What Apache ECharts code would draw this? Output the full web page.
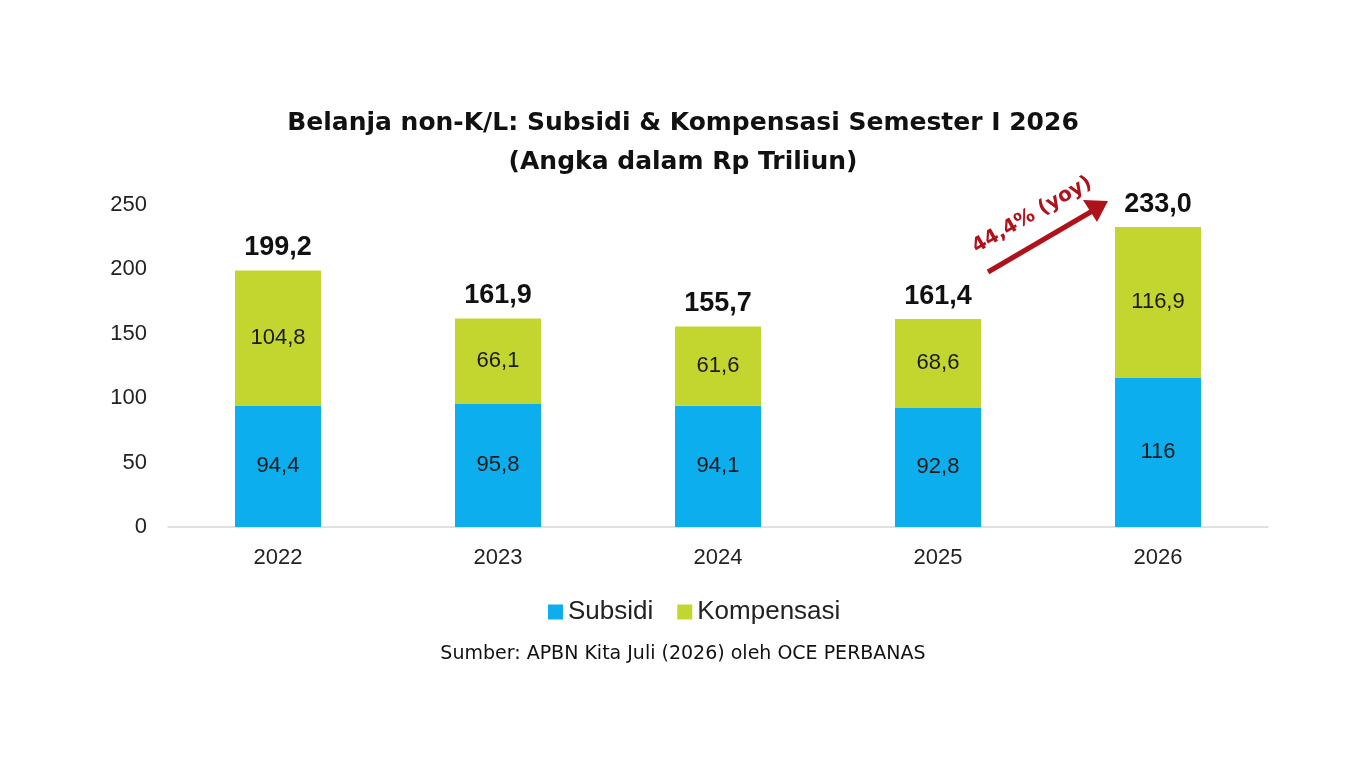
<!DOCTYPE html>
<html>
<head>
<meta charset="utf-8">
<title>Belanja non-K/L: Subsidi & Kompensasi</title>
<script src="https://cdn.jsdelivr.net/npm/echarts@6/dist/echarts.min.js"></script>
<style>
    html, body { margin: 0; padding: 0; background: #fff; }
    #chart { width: 1366px; height: 768px; }
</style>
</head>
<body>
<div id="chart"></div>
<script>
// data
const years = ['2022', '2023', '2024', '2025', '2026'];
const subsidi = [94.4, 95.8, 94.1, 92.8, 116];
const kompensasi = [104.8, 66.1, 61.6, 68.6, 116.9];
const totals = [199.2, 161.9, 155.7, 161.4, 233.0];
const yTicks = [0, 50, 100, 150, 200, 250];

const comma = v => String(v).replace('.', ',');
const baseFont = '"Liberation Sans", Arial, sans-serif';
const headFont = '"DejaVu Sans", sans-serif';

const chart = echarts.init(document.getElementById('chart'));

const option = {
    backgroundColor: '#ffffff',
    title: [
        {
            text: 'Belanja non-K/L: Subsidi & Kompensasi Semester I 2026\n(Angka dalam Rp Triliun)',
            left: 'center',
            top: 99,
            textStyle: {
                fontFamily: headFont,
                fontSize: 25,
                fontWeight: 'bold',
                color: '#111',
                lineHeight: 39
            }
        },
        {
            text: 'Sumber: APBN Kita Juli (2026) oleh OCE PERBANAS',
            left: 'center',
            top: 640,
            textStyle: {
                fontFamily: headFont,
                fontSize: 19,
                fontWeight: 'normal',
                color: '#111'
            }
        }
    ],
    legend: {
        data: ['Subsidi', 'Kompensasi'],
        left: 543,
        top: 594,
        itemWidth: 15,
        itemHeight: 15,
        itemGap: 24,
        icon: 'rect',
        textStyle: { fontFamily: baseFont, fontSize: 26, color: '#222' }
    },
    grid: { left: 168, right: 98, top: 205, bottom: 241, containLabel: false },
    xAxis: {
        type: 'category',
        data: years,
        axisLine: { lineStyle: { color: '#d6d6d6', width: 1.5 } },
        axisTick: { show: false },
        axisLabel: { fontFamily: baseFont, fontSize: 22, color: '#222', margin: 20 }
    },
    yAxis: {
        type: 'value',
        min: yTicks[0],
        max: yTicks[yTicks.length - 1],
        interval: 50,
        axisLine: { show: false },
        axisTick: { show: false },
        splitLine: { show: false },
        axisLabel: { fontFamily: baseFont, fontSize: 22, color: '#222', margin: 21 }
    },
    series: [
        {
            name: 'Subsidi',
            type: 'bar',
            stack: 'total',
            data: subsidi,
            barWidth: 86,
            itemStyle: { color: '#0DAEEE' },
            label: {
                show: true,
                position: 'inside',
                fontFamily: baseFont,
                fontSize: 22,
                color: '#1a1a1a',
                formatter: p => comma(p.value)
            }
        },
        {
            name: 'Kompensasi',
            type: 'bar',
            stack: 'total',
            data: kompensasi,
            barWidth: 86,
            itemStyle: { color: '#C3D62F' },
            label: {
                show: true,
                position: 'inside',
                fontFamily: baseFont,
                fontSize: 22,
                color: '#1a1a1a',
                formatter: p => comma(p.value)
            }
        },
        {
            // label total di atas batang
            name: 'Total',
            type: 'bar',
            stack: 'total',
            data: years.map(() => 0),
            barWidth: 86,
            itemStyle: { color: 'transparent' },
            label: {
                show: true,
                position: 'top',
                distance: 9,
                fontFamily: baseFont,
                fontSize: 27,
                fontWeight: 'bold',
                color: '#111',
                formatter: p => comma(totals[p.dataIndex].toFixed(1))
            },
            tooltip: { show: false }
        }
    ],
    graphic: [
        {
            type: 'line',
            shape: { x1: 988, y1: 272, x2: 1094, y2: 210 },
            style: { stroke: '#B0121B', lineWidth: 5 }
        },
        {
            type: 'polygon',
            shape: { points: [[1108, 201], [1083, 200], [1097, 222]] },
            style: { fill: '#B0121B' }
        },
        {
            type: 'text',
            x: 1032,
            y: 215,
            rotation: 30 * Math.PI / 180,
            style: {
                text: '44,4% (yoy)',
                fontFamily: headFont,
                fontSize: 20,
                fontWeight: 'bold',
                fill: '#B0121B',
                align: 'center',
                verticalAlign: 'middle'
            }
        }
    ]
};

chart.setOption(option);
window.addEventListener('resize', () => chart.resize());
</script>
</body>
</html>
